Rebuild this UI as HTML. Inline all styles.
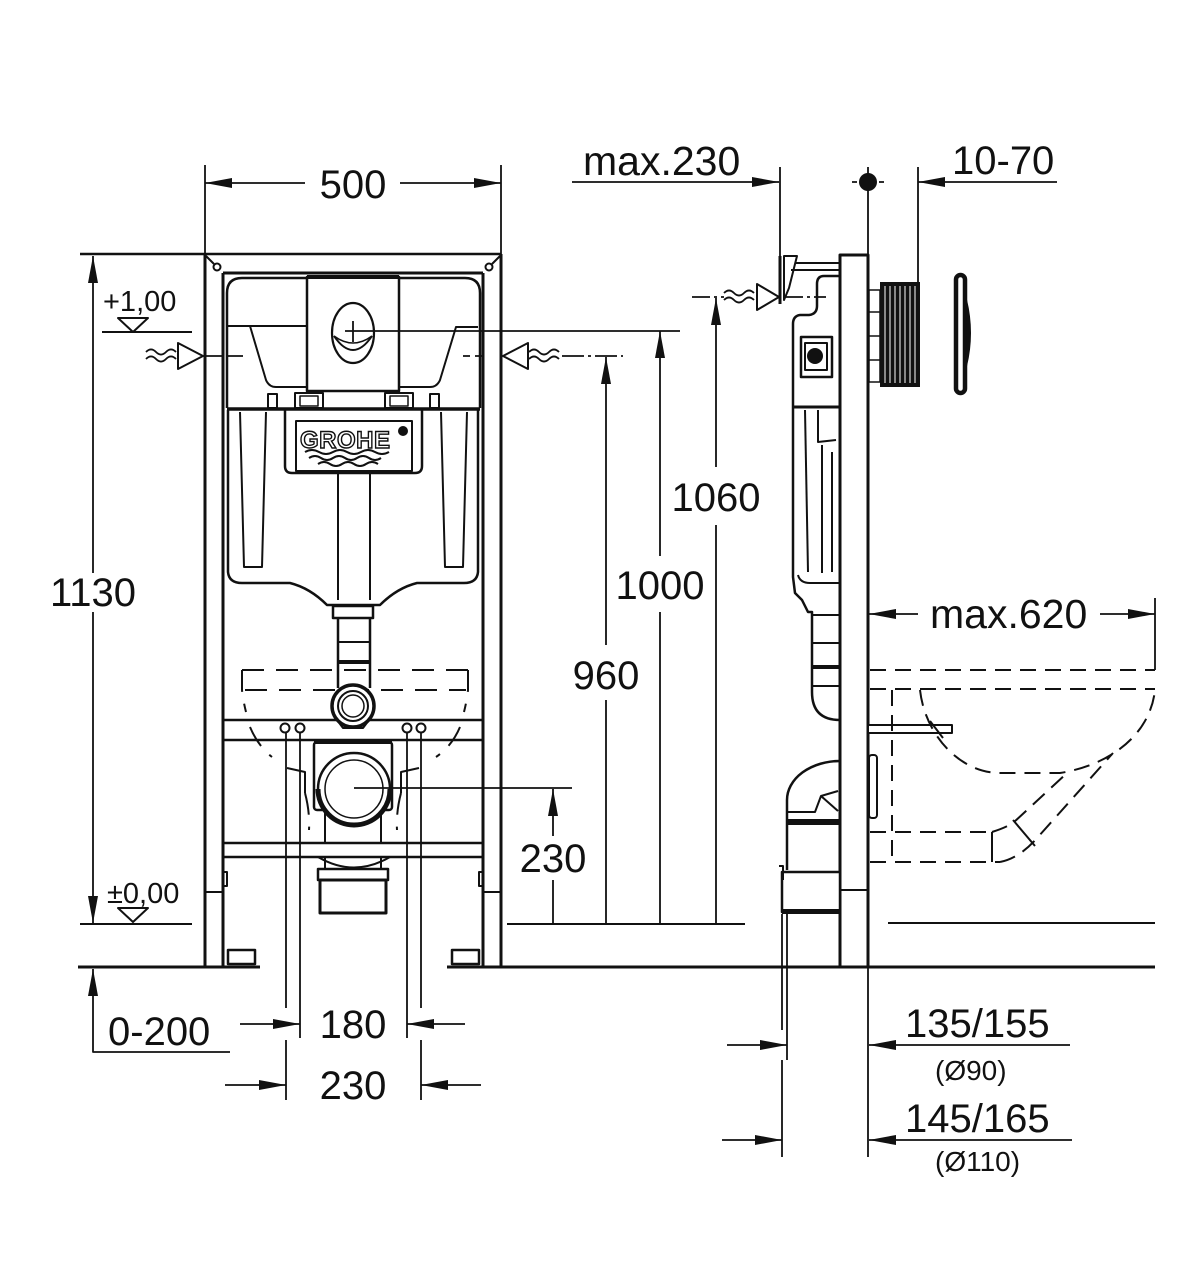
<!DOCTYPE html>
<html><head><meta charset="utf-8"><style>
html,body{margin:0;padding:0;background:#fff;}
svg{display:block;}
text{font-family:"Liberation Sans",Arial,sans-serif;fill:#111;}
</style></head><body>
<svg width="1189" height="1281" viewBox="0 0 1189 1281" xmlns="http://www.w3.org/2000/svg">
<rect x="0" y="0" width="1189" height="1281" fill="#fff"/>
<g fill="none" stroke="#111" stroke-width="2" stroke-linecap="butt" stroke-linejoin="round">

<!-- ===== LEFT VIEW: FRAME ===== -->
<line x1="80" y1="254" x2="501" y2="254" stroke-width="2.5"/>
<line x1="223" y1="273" x2="483" y2="273" stroke-width="3"/>
<line x1="205" y1="165" x2="205" y2="254" stroke-width="1.8"/>
<line x1="501" y1="165" x2="501" y2="254" stroke-width="1.8"/>
<line x1="205" y1="254" x2="205" y2="967" stroke-width="3"/>
<line x1="223" y1="273" x2="223" y2="967" stroke-width="3"/>
<line x1="483" y1="273" x2="483" y2="967" stroke-width="3"/>
<line x1="501" y1="254" x2="501" y2="967" stroke-width="3"/>
<line x1="205" y1="892" x2="223" y2="892" stroke-width="2"/>
<line x1="483" y1="892" x2="501" y2="892" stroke-width="2"/>
<path d="M223 872 h4 v14 h-4" stroke-width="2"/>
<path d="M483 872 h-4 v14 h4" stroke-width="2"/>
<rect x="228" y="950" width="27" height="14" stroke-width="2.5"/>
<rect x="452" y="950" width="27" height="14" stroke-width="2.5"/>
<circle cx="217" cy="267" r="3.5" stroke-width="2"/>
<line x1="206" y1="256" x2="214" y2="264"/>
<circle cx="489" cy="267" r="3.5" stroke-width="2"/>
<line x1="500" y1="256" x2="492" y2="264"/>

<!-- cistern upper -->
<path d="M227 408 V293 Q227 278 242 278 H465 Q480 278 480 293 V408" stroke-width="2.5"/>
<path d="M228 326 H250 L266 380 Q269 387 276 387 H307" stroke-width="2"/>
<line x1="250" y1="326" x2="307" y2="326"/>
<path d="M478 327 H456 L440 380 Q437 387 430 387 H399" stroke-width="2"/>
<rect x="307" y="277" width="92" height="114" stroke-width="2.5" fill="#fff"/>
<line x1="307" y1="277" x2="399" y2="277" stroke-width="4"/>
<ellipse cx="353" cy="333" rx="21" ry="30" stroke-width="2.2"/>
<path d="M334 336 Q353 364 372 336" stroke-width="2"/>
<path d="M334 336 Q353 350 372 336" stroke-width="1.5"/>
<line x1="353" y1="321" x2="353" y2="342" stroke-width="1.8"/>
<line x1="345" y1="331" x2="680" y2="331" stroke-width="1.8"/>
<rect x="268" y="394" width="9" height="14" stroke-width="2"/>
<rect x="295" y="393" width="28" height="15" stroke-width="2"/>
<rect x="300" y="396" width="18" height="10" stroke-width="1.5"/>
<rect x="385" y="393" width="28" height="15" stroke-width="2"/>
<rect x="390" y="396" width="18" height="10" stroke-width="1.5"/>
<rect x="430" y="394" width="9" height="14" stroke-width="2"/>
<line x1="227" y1="409" x2="480" y2="409" stroke-width="3.5"/>

<!-- cistern lower -->
<path d="M228 410 V572 Q229 583 242 583 H290 Q310 588 327 605 H380 Q397 588 417 583 H464 Q477 583 478 572 V410" stroke-width="2.5"/>
<path d="M240 412 L244 567 H262 L266 412" stroke-width="2"/>
<path d="M441 412 L445 567 H463 L467 412" stroke-width="2"/>
<path d="M285 410 V466 Q285 473 292 473 H415 Q422 473 422 466 V410" stroke-width="2.5"/>
<rect x="296" y="421" width="116" height="50" stroke-width="2"/>
<line x1="338" y1="473" x2="338" y2="600" stroke-width="2"/>
<line x1="370" y1="473" x2="370" y2="600" stroke-width="2"/>
<path d="M305 452 q7 -4 14 0 t14 0 t14 0 t14 0 t14 0 t14 0" stroke-width="2"/>
<path d="M309 458 q6 -4 12 0 t12 0 t12 0 t12 0 t12 0 t12 0" stroke-width="2"/>
<path d="M318 464 q6 -4 12 0 t12 0 t12 0 t12 0 t12 0" stroke-width="2"/>

<!-- neck and pipe -->
<rect x="333" y="606" width="40" height="12" stroke-width="2.5" fill="#fff"/>
<line x1="338" y1="618" x2="338" y2="688" stroke-width="2.5"/>
<line x1="370" y1="618" x2="370" y2="688" stroke-width="2.5"/>
<line x1="338" y1="642" x2="370" y2="642" stroke-width="2"/>
<line x1="338" y1="662" x2="370" y2="662" stroke-width="4"/>

<!-- dashed seat -->
<g stroke-dasharray="22 12" stroke-width="2">
<line x1="242" y1="670" x2="468" y2="670"/>
<line x1="245" y1="690" x2="466" y2="690"/>
<path d="M242 670 V690 Q243 700 246 712"/>
<path d="M468 670 V690 Q467 700 464 712"/>
<path d="M250 727 Q258 746 272 757"/>
<path d="M460 727 Q452 746 436 757"/>
<path d="M305 793 Q310 812 309 830"/>
<path d="M401 793 Q396 812 397 830"/>
</g>

<!-- crossbar -->
<line x1="223" y1="720" x2="483" y2="720" stroke-width="2.5"/>
<line x1="223" y1="740" x2="483" y2="740" stroke-width="2.5"/>
<path d="M337 720 L343 728 H363 L369 720" stroke-width="2" fill="#fff"/>
<circle cx="353" cy="706" r="21" stroke-width="3.5" fill="#fff"/>
<circle cx="353" cy="706" r="15" stroke-width="2"/>
<circle cx="353" cy="706" r="11" stroke-width="1.5"/>
<circle cx="285" cy="728" r="4.5" stroke-width="2" fill="#fff"/>
<circle cx="300" cy="728" r="4.5" stroke-width="2" fill="#fff"/>
<circle cx="407" cy="728" r="4.5" stroke-width="2" fill="#fff"/>
<circle cx="421" cy="728" r="4.5" stroke-width="2" fill="#fff"/>
<g stroke-width="1.8">
<line x1="286" y1="733" x2="286" y2="1008"/>
<line x1="286" y1="1040" x2="286" y2="1100"/>
<line x1="300" y1="733" x2="300" y2="1038"/>
<line x1="407" y1="733" x2="407" y2="1038"/>
<line x1="421" y1="733" x2="421" y2="1008"/>
<line x1="421" y1="1040" x2="421" y2="1100"/>
</g>
<path d="M287 768 L305 772 V793" stroke-width="2"/>
<path d="M419 768 L401 772 V793" stroke-width="2"/>

<!-- drain -->
<rect x="314" y="742" width="78" height="68" rx="3" stroke-width="2.5" fill="#fff"/>
<line x1="314" y1="742" x2="392" y2="742" stroke-width="4"/>
<circle cx="354" cy="789" r="36" stroke-width="2.5" fill="#fff"/>
<path d="M318 789 A36 36 0 0 0 390 789" stroke-width="5"/>
<circle cx="354" cy="789" r="29" stroke-width="1.5"/>
<line x1="354" y1="788" x2="572" y2="788" stroke-width="1.8"/>
<line x1="325" y1="810" x2="325" y2="843" stroke-width="2"/>
<line x1="381" y1="810" x2="381" y2="843" stroke-width="2"/>
<line x1="223" y1="843" x2="483" y2="843" stroke-width="2.5"/>
<line x1="223" y1="857" x2="483" y2="857" stroke-width="2.5"/>
<path d="M318 857 Q354 878 390 857" stroke-width="2"/>
<line x1="325" y1="857" x2="325" y2="870" stroke-width="2"/>
<line x1="381" y1="857" x2="381" y2="870" stroke-width="2"/>
<rect x="318" y="869" width="70" height="11" stroke-width="2.5" fill="#fff"/>
<rect x="320" y="880" width="66" height="33" stroke-width="3" fill="#fff"/>

<!-- left annotations -->
<path d="M118 318 H148 L133 332 Z" stroke-width="2" fill="#fff"/>
<line x1="102" y1="332" x2="192" y2="332" stroke-width="2"/>
<path d="M118 908 H148 L133 922 Z" stroke-width="2" fill="#fff"/>
<line x1="80" y1="924" x2="192" y2="924" stroke-width="2"/>
<line x1="93" y1="256" x2="93" y2="573" stroke-width="1.8"/>
<line x1="93" y1="612" x2="93" y2="923" stroke-width="1.8"/>
<line x1="78" y1="967" x2="260" y2="967" stroke-width="3"/>
<line x1="447" y1="967" x2="1155" y2="967" stroke-width="3"/>
<path d="M93 969 V1052 H230" stroke-width="1.8"/>

<!-- inlets -->
<polygon points="178,343 178,369 203,356" fill="#fff" stroke-width="2"/>
<path d="M146 352 q5 -5 10 0 t10 0 t10 0" stroke-width="1.8"/>
<path d="M146 359 q5 -5 10 0 t10 0 t10 0" stroke-width="1.8"/>
<path d="M205 356 H222 M228 356 H243" stroke-width="1.8"/>
<polygon points="503,356 528,343 528,369" fill="#fff" stroke-width="2"/>
<path d="M529 352 q5 -5 10 0 t10 0 t10 0" stroke-width="1.8"/>
<path d="M529 359 q5 -5 10 0 t10 0 t10 0" stroke-width="1.8"/>
<path d="M463 356 H470 M475 356 H483" stroke-width="1.8"/>
<line x1="562" y1="356" x2="623" y2="356" stroke-width="1.8" stroke-dasharray="22 4 3 4"/>

<!-- top 500 -->
<line x1="205" y1="183" x2="305" y2="183" stroke-width="1.8"/>
<line x1="400" y1="183" x2="501" y2="183" stroke-width="1.8"/>

<!-- bottom dims -->
<line x1="240" y1="1024" x2="300" y2="1024" stroke-width="1.8"/>
<line x1="407" y1="1024" x2="465" y2="1024" stroke-width="1.8"/>
<line x1="225" y1="1085" x2="286" y2="1085" stroke-width="1.8"/>
<line x1="421" y1="1085" x2="481" y2="1085" stroke-width="1.8"/>

<!-- vertical dims right of left view -->
<line x1="507" y1="924" x2="745" y2="924" stroke-width="2"/>
<line x1="553" y1="789" x2="553" y2="836" stroke-width="1.8"/>
<line x1="553" y1="880" x2="553" y2="924" stroke-width="1.8"/>
<line x1="606" y1="357" x2="606" y2="645" stroke-width="1.8"/>
<line x1="606" y1="700" x2="606" y2="924" stroke-width="1.8"/>
<line x1="660" y1="331" x2="660" y2="556" stroke-width="1.8"/>
<line x1="660" y1="612" x2="660" y2="924" stroke-width="1.8"/>
<line x1="716" y1="298" x2="716" y2="467" stroke-width="1.8"/>
<line x1="716" y1="525" x2="716" y2="924" stroke-width="1.8"/>

<!-- ===== RIGHT VIEW ===== -->
<line x1="572" y1="182" x2="779" y2="182" stroke-width="1.8"/>
<line x1="780" y1="167" x2="780" y2="304" stroke-width="1.8"/>
<line x1="780" y1="256" x2="780" y2="304" stroke-width="3"/>
<line x1="868" y1="167" x2="868" y2="258" stroke-width="1.8"/>
<path d="M852 182 H857 M879 182 H884" stroke-width="1.8"/>
<line x1="918" y1="167" x2="918" y2="282" stroke-width="1.8"/>
<line x1="918" y1="182" x2="1057" y2="182" stroke-width="1.8"/>

<!-- inlet side -->
<line x1="692" y1="297" x2="724" y2="297" stroke-width="1.8" stroke-dasharray="18 4 3 4"/>
<path d="M724 293 q5 -5 10 0 t10 0 t10 0" stroke-width="1.8"/>
<path d="M724 300 q5 -5 10 0 t10 0 t10 0" stroke-width="1.8"/>
<polygon points="757,284 757,310 779,297" fill="#fff" stroke-width="2"/>
<line x1="785" y1="297" x2="826" y2="297" stroke-width="1.8" stroke-dasharray="18 4 3 4"/>

<!-- bracket -->
<polygon points="784,256 797,256 789,288 784,300" fill="#fff" stroke-width="2"/>
<line x1="795" y1="263" x2="840" y2="263" stroke-width="2"/>
<line x1="791" y1="270" x2="840" y2="270" stroke-width="2"/>

<!-- column -->
<rect x="840" y="255" width="28" height="712" stroke-width="3" fill="#fff"/>
<line x1="840" y1="890" x2="868" y2="890" stroke-width="2"/>

<!-- cistern side -->
<path d="M840 276 H824 Q817 276 817 284 V306 Q817 314 809 315 H800 Q793 316 793 324 V577 L795 593 L802 600 L808 612 H812 V692 Q812 720 840 720" stroke-width="2.5"/>
<rect x="801" y="337" width="31" height="40" stroke-width="2.5"/>
<rect x="805" y="343" width="22" height="27" stroke-width="2"/>
<circle cx="815" cy="356" r="8" fill="#111" stroke="none"/>
<line x1="793" y1="407" x2="840" y2="407" stroke-width="3"/>
<path d="M805 410 L808 572" stroke-width="2"/>
<path d="M818 410 V442 L836 440" stroke-width="2"/>
<path d="M822 445 V573" stroke-width="2"/>
<path d="M832 452 V572" stroke-width="2"/>
<path d="M798 575 Q800 583 810 583 H840" stroke-width="2"/>
<line x1="812" y1="615" x2="840" y2="615" stroke-width="2"/>
<line x1="812" y1="643" x2="840" y2="643" stroke-width="2"/>
<line x1="812" y1="667" x2="840" y2="667" stroke-width="4"/>
<line x1="812" y1="686" x2="840" y2="686" stroke-width="2"/>

<!-- flush actuator -->
<rect x="880" y="282" width="40" height="105" fill="#111" stroke="none"/>
<g stroke="#fff" stroke-width="1">
<line x1="885" y1="286" x2="885" y2="383"/><line x1="890" y1="286" x2="890" y2="383"/>
<line x1="895" y1="286" x2="895" y2="383"/><line x1="900" y1="286" x2="900" y2="383"/>
<line x1="905" y1="286" x2="905" y2="383"/><line x1="910" y1="286" x2="910" y2="383"/>
<line x1="915" y1="286" x2="915" y2="383"/>
</g>
<rect x="869" y="290" width="11" height="92" stroke-width="1.5" fill="#fff"/>
<path d="M869 312 H880 M869 336 H880 M869 360 H880" stroke-width="1.5"/>
<rect x="956" y="275" width="9" height="118" rx="4.5" stroke-width="4.5" fill="#fff"/>
<path d="M965 300 Q973 333 965 366" stroke-width="4"/>

<!-- max.620 -->
<line x1="869" y1="614" x2="918" y2="614" stroke-width="1.8"/>
<line x1="1100" y1="614" x2="1155" y2="614" stroke-width="1.8"/>
<line x1="1155" y1="598" x2="1155" y2="670" stroke-width="1.8"/>

<!-- rod and small bracket -->
<rect x="868" y="725" width="84" height="8" stroke-width="2" fill="#fff"/>
<rect x="869" y="755" width="8" height="63" rx="3" stroke-width="2" fill="#fff"/>

<!-- bowl dashed -->
<g stroke-dasharray="16 9" stroke-width="2">
<line x1="870" y1="670" x2="1155" y2="670"/>
<line x1="870" y1="689" x2="1155" y2="689"/>
<path d="M920 690 C925 735 960 773 1000 773 L1060 773 C1110 765 1150 735 1155 690"/>
<line x1="892" y1="690" x2="892" y2="862"/>
<line x1="870" y1="832" x2="992" y2="832"/>
<line x1="870" y1="862" x2="1000" y2="862"/>
<path d="M992 832 Q1005 828 1013 823 L1067 773"/>
<path d="M1000 862 Q1020 858 1038 837 L1113 753"/>
</g>
<line x1="992" y1="832" x2="992" y2="862" stroke-width="2"/>
<line x1="1013" y1="820" x2="1035" y2="846" stroke-width="2"/>
<line x1="930" y1="721" x2="943" y2="738" stroke-width="2"/>
<line x1="888" y1="923" x2="1155" y2="923" stroke-width="2"/>

<!-- waste bend -->
<path d="M787 870 V800 A53 39 0 0 1 840 761" stroke-width="2.5"/>
<path d="M787 812 H815 L821 796 L838 791" stroke-width="2"/>
<line x1="821" y1="796" x2="838" y2="811" stroke-width="2"/>
<rect x="787" y="819" width="53" height="6" fill="#111" stroke="none"/>
<rect x="782" y="872" width="58" height="40" stroke-width="2.5" fill="#fff"/>
<rect x="782" y="909" width="58" height="5" fill="#111" stroke="none"/>
<path d="M779 866 h4 v14" stroke-width="2"/>
<line x1="787" y1="914" x2="787" y2="1060" stroke-width="1.8"/>
<line x1="782" y1="914" x2="782" y2="1030" stroke-width="1.8"/>
<line x1="782" y1="1060" x2="782" y2="1157" stroke-width="1.8"/>
<line x1="868" y1="967" x2="868" y2="1157" stroke-width="1.8"/>
<line x1="727" y1="1045" x2="787" y2="1045" stroke-width="1.8"/>
<line x1="869" y1="1045" x2="1070" y2="1045" stroke-width="1.8"/>
<line x1="722" y1="1140" x2="782" y2="1140" stroke-width="1.8"/>
<line x1="869" y1="1140" x2="1072" y2="1140" stroke-width="1.8"/>
</g>

<!-- arrowheads -->
<g fill="#111" stroke="none">
<polygon points="205,183 232,178 232,188"/>
<polygon points="501,183 474,178 474,188"/>
<polygon points="93,256 88,283 98,283"/>
<polygon points="93,923 88,896 98,896"/>
<polygon points="93,969 88,996 98,996"/>
<polygon points="300,1024 273,1019 273,1029"/>
<polygon points="407,1024 434,1019 434,1029"/>
<polygon points="286,1085 259,1080 259,1090"/>
<polygon points="421,1085 448,1080 448,1090"/>
<polygon points="553,789 548,816 558,816"/>
<polygon points="606,357 601,384 611,384"/>
<polygon points="660,331 655,358 665,358"/>
<polygon points="716,298 711,325 721,325"/>
<polygon points="779,182 752,177 752,187"/>
<polygon points="918,182 945,177 945,187"/>
<polygon points="869,614 896,609 896,619"/>
<polygon points="1155,614 1128,609 1128,619"/>
<polygon points="787,1045 760,1040 760,1050"/>
<polygon points="869,1045 896,1040 896,1050"/>
<polygon points="782,1140 755,1135 755,1145"/>
<polygon points="869,1140 896,1135 896,1145"/>
<circle cx="868" cy="182" r="9"/>
<circle cx="403" cy="431" r="5"/>
</g>

<!-- GROHE logo text -->
<text x="300" y="448" font-size="24" font-weight="bold" letter-spacing="0.5" style="fill:#fff;stroke:#111;stroke-width:1.4">GROHE</text>

<!-- labels -->
<g font-size="40">
<text x="353" y="198" text-anchor="middle">500</text>
<text x="93" y="606" text-anchor="middle">1130</text>
<text x="108" y="1045">0-200</text>
<text x="353" y="1038" text-anchor="middle">180</text>
<text x="353" y="1099" text-anchor="middle">230</text>
<text x="553" y="872" text-anchor="middle">230</text>
<text x="606" y="689" text-anchor="middle">960</text>
<text x="660" y="599" text-anchor="middle">1000</text>
<text x="716" y="511" text-anchor="middle">1060</text>
<text x="583" y="175" font-size="41">max.230</text>
<text x="952" y="174">10-70</text>
<text x="930" y="628" font-size="41">max.620</text>
<text x="905" y="1037">135/155</text>
<text x="905" y="1132">145/165</text>
</g>
<text x="103" y="311" font-size="29">+1,00</text>
<text x="107" y="903" font-size="29">±0,00</text>
<text x="935" y="1080" font-size="28">(Ø90)</text>
<text x="935" y="1171" font-size="28">(Ø110)</text>
</svg>
</body></html>
